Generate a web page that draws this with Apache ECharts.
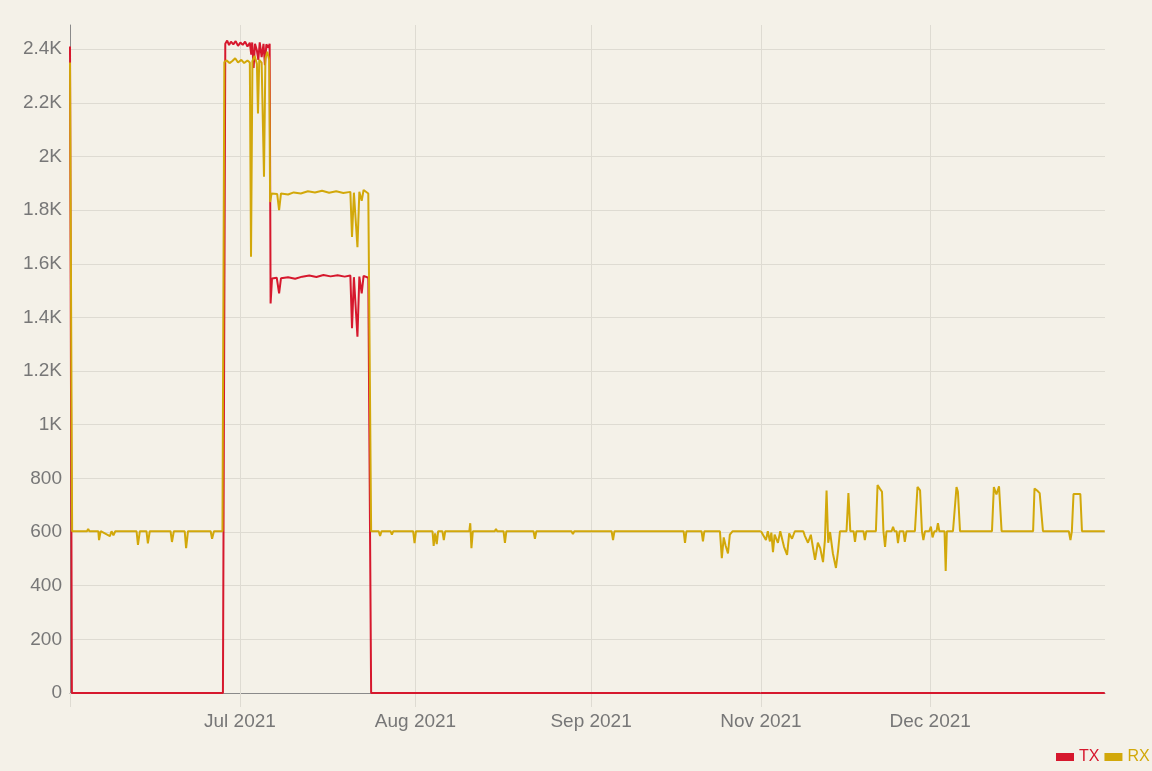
<!DOCTYPE html>
<html>
<head>
<meta charset="utf-8">
<script src="https://cdn.jsdelivr.net/npm/echarts@6/dist/echarts.min.js"></script>
<style>
html,body{margin:0;padding:0;background:#f4f1e8;}
#chart{width:1152px;height:771px;}
</style>
</head>
<body>
<div id="chart"></div>
<script>
// ---- data ----
const seriesNames = ['TX', 'RX'];
const monthTickLabels = ['Jul 2021', 'Aug 2021', 'Sep 2021', 'Nov 2021', 'Dec 2021'];
// Period 1: June - September 2021
const txJunSep = [
  ['2021-06-01 00:00', 2410], ['2021-06-01 08:00', 0], ['2021-06-28 00:00', 0],
  ['2021-06-28 10:00', 2420], ['2021-06-28 18:00', 2432], ['2021-06-29 02:00', 2415],
  ['2021-06-29 10:00', 2428], ['2021-06-29 20:00', 2418], ['2021-06-30 06:00', 2430],
  ['2021-06-30 16:00', 2412], ['2021-07-01 02:00', 2425], ['2021-07-01 12:00', 2416],
  ['2021-07-01 22:00', 2428], ['2021-07-02 08:00', 2410], ['2021-07-02 18:00', 2424],
  ['2021-07-03 00:00', 2380], ['2021-07-03 04:00', 2425], ['2021-07-03 10:00', 2330],
  ['2021-07-03 16:00', 2420], ['2021-07-04 00:00', 2395], ['2021-07-04 06:00', 2360],
  ['2021-07-04 12:00', 2425], ['2021-07-04 20:00', 2370], ['2021-07-05 04:00', 2420],
  ['2021-07-05 10:00', 2340], ['2021-07-05 16:00', 2418], ['2021-07-06 00:00', 2405],
  ['2021-07-06 06:00', 2420], ['2021-07-06 10:00', 1452], ['2021-07-06 16:00', 1545],
  ['2021-07-07 12:00', 1548], ['2021-07-07 22:00', 1490], ['2021-07-08 06:00', 1546],
  ['2021-07-09 12:00', 1550], ['2021-07-10 18:00', 1544], ['2021-07-12 00:00', 1552],
  ['2021-07-13 06:00', 1556], ['2021-07-14 12:00', 1551], ['2021-07-15 18:00', 1558],
  ['2021-07-17 00:00', 1553], ['2021-07-18 06:00', 1557], ['2021-07-19 12:00', 1552],
  ['2021-07-20 12:00', 1556], ['2021-07-20 19:00', 1360], ['2021-07-21 03:00', 1550],
  ['2021-07-21 18:00', 1328], ['2021-07-22 02:00', 1552], ['2021-07-22 12:00', 1490],
  ['2021-07-22 20:00', 1555], ['2021-07-23 16:00', 1548], ['2021-07-24 04:00', 0],
  ['2021-09-30 23:00', 0]
];
const rxJunSep = [
  ['2021-06-01 00:00', 2350], ['2021-06-01 09:00', 603], ['2021-06-04 00:00', 603],
  ['2021-06-04 05:00', 612], ['2021-06-04 10:00', 603], ['2021-06-06 00:00', 603],
  ['2021-06-06 03:00', 570], ['2021-06-06 10:00', 603], ['2021-06-08 01:00', 585],
  ['2021-06-08 08:00', 603], ['2021-06-08 16:00', 588], ['2021-06-09 00:00', 603],
  ['2021-06-12 18:00', 603], ['2021-06-13 00:00', 552], ['2021-06-13 08:00', 603],
  ['2021-06-14 12:00', 603], ['2021-06-14 18:00', 558], ['2021-06-15 02:00', 603],
  ['2021-06-18 18:00', 603], ['2021-06-19 00:00', 563], ['2021-06-19 08:00', 603],
  ['2021-06-21 06:00', 603], ['2021-06-21 12:00', 540], ['2021-06-21 20:00', 603],
  ['2021-06-25 20:00', 603], ['2021-06-26 02:00', 575], ['2021-06-26 10:00', 603],
  ['2021-06-27 22:00', 603], ['2021-06-28 06:00', 2352], ['2021-06-28 16:00', 2358],
  ['2021-06-29 04:00', 2348], ['2021-06-29 16:00', 2356], ['2021-06-30 04:00', 2366],
  ['2021-06-30 16:00', 2350], ['2021-07-01 06:00', 2360], ['2021-07-01 18:00', 2348],
  ['2021-07-02 08:00', 2358], ['2021-07-02 18:00', 2350], ['2021-07-02 23:00', 1626],
  ['2021-07-03 05:00', 2355], ['2021-07-03 14:00', 2375], ['2021-07-04 00:00', 2345],
  ['2021-07-04 04:30', 2160], ['2021-07-04 10:00', 2360], ['2021-07-04 20:00', 2350],
  ['2021-07-05 06:00', 1924], ['2021-07-05 12:00', 2365], ['2021-07-05 20:00', 2390],
  ['2021-07-06 04:00', 2360], ['2021-07-06 08:00', 1830], ['2021-07-06 14:00', 1862],
  ['2021-07-07 14:00', 1860], ['2021-07-07 22:00', 1800], ['2021-07-08 06:00', 1862],
  ['2021-07-09 12:00', 1858], ['2021-07-10 12:00', 1866], ['2021-07-11 18:00', 1862],
  ['2021-07-13 00:00', 1870], ['2021-07-14 06:00', 1866], ['2021-07-15 12:00', 1872],
  ['2021-07-16 18:00', 1865], ['2021-07-18 00:00', 1870], ['2021-07-19 06:00', 1864],
  ['2021-07-20 12:00', 1868], ['2021-07-20 19:00', 1700], ['2021-07-21 03:00', 1865],
  ['2021-07-21 18:00', 1662], ['2021-07-22 02:00', 1868], ['2021-07-22 12:00', 1835],
  ['2021-07-22 20:00', 1875], ['2021-07-23 16:00', 1862], ['2021-07-24 04:00', 603],
  ['2021-07-25 12:00', 603], ['2021-07-25 18:00', 585], ['2021-07-26 00:00', 603],
  ['2021-07-27 14:00', 603], ['2021-07-27 20:00', 590], ['2021-07-28 02:00', 603],
  ['2021-07-31 14:00', 603], ['2021-07-31 20:00', 559], ['2021-08-01 02:00', 603],
  ['2021-08-04 00:00', 603], ['2021-08-04 05:00', 548], ['2021-08-04 11:00', 595],
  ['2021-08-04 18:00', 555], ['2021-08-05 00:00', 603], ['2021-08-05 18:00', 603],
  ['2021-08-06 00:00', 570], ['2021-08-06 06:00', 603], ['2021-08-10 12:00', 603],
  ['2021-08-10 16:00', 633], ['2021-08-10 21:00', 540], ['2021-08-11 03:00', 603],
  ['2021-08-15 00:00', 603], ['2021-08-15 05:00', 612], ['2021-08-15 10:00', 603],
  ['2021-08-16 13:00', 603], ['2021-08-16 19:00', 560], ['2021-08-17 01:00', 603],
  ['2021-08-21 20:00', 603], ['2021-08-22 02:00', 575], ['2021-08-22 08:00', 603],
  ['2021-08-28 13:00', 603], ['2021-08-28 19:00', 592], ['2021-08-29 01:00', 603],
  ['2021-09-04 15:00', 603], ['2021-09-04 21:00', 570], ['2021-09-05 03:00', 603],
  ['2021-09-17 08:00', 603], ['2021-09-17 14:00', 560], ['2021-09-17 20:00', 603],
  ['2021-09-20 12:00', 603], ['2021-09-20 18:00', 565], ['2021-09-21 00:00', 603],
  ['2021-09-23 18:00', 603], ['2021-09-24 02:00', 503], ['2021-09-24 10:00', 580],
  ['2021-09-24 18:00', 550], ['2021-09-25 04:00', 520], ['2021-09-25 12:00', 590],
  ['2021-09-26 00:00', 603], ['2021-09-30 23:00', 603]
];
// Period 2: November - December 2021
const txNovDec = [['2021-11-01 00:00', 0], ['2021-12-31 23:00', 0]];
const rxNovDec = [
  ['2021-11-01 00:00', 603], ['2021-11-01 08:00', 600], ['2021-11-01 21:00', 570],
  ['2021-11-02 05:00', 603], ['2021-11-02 14:00', 565], ['2021-11-02 20:00', 598],
  ['2021-11-03 03:00', 525], ['2021-11-03 10:00', 590], ['2021-11-04 00:00', 560],
  ['2021-11-04 10:00', 603], ['2021-11-05 02:00', 545], ['2021-11-05 15:00', 515],
  ['2021-11-06 00:00', 595], ['2021-11-06 12:00', 575], ['2021-11-07 00:00', 603],
  ['2021-11-08 12:00', 603], ['2021-11-08 19:00', 585], ['2021-11-09 08:00', 560],
  ['2021-11-09 20:00', 590], ['2021-11-10 14:00', 496], ['2021-11-11 02:00', 560],
  ['2021-11-11 12:00', 540], ['2021-11-12 00:00', 488], ['2021-11-12 08:00', 570],
  ['2021-11-12 15:00', 755], ['2021-11-12 22:00', 560], ['2021-11-13 06:00', 600],
  ['2021-11-13 18:00', 520], ['2021-11-14 07:00', 466], ['2021-11-14 16:00', 530],
  ['2021-11-15 00:00', 603], ['2021-11-16 04:00', 603], ['2021-11-16 12:00', 745],
  ['2021-11-16 20:00', 603], ['2021-11-17 10:00', 603], ['2021-11-17 16:00', 563],
  ['2021-11-17 22:00', 603], ['2021-11-19 04:00', 603], ['2021-11-19 10:00', 570],
  ['2021-11-19 16:00', 603], ['2021-11-21 09:00', 603], ['2021-11-21 16:00', 775],
  ['2021-11-22 03:00', 760], ['2021-11-22 11:00', 750], ['2021-11-22 17:00', 603],
  ['2021-11-23 00:00', 545], ['2021-11-23 06:00', 603], ['2021-11-24 04:00', 603],
  ['2021-11-24 10:00', 620], ['2021-11-24 16:00', 603], ['2021-11-25 01:00', 603],
  ['2021-11-25 07:00', 559], ['2021-11-25 14:00', 603], ['2021-11-26 06:00', 603],
  ['2021-11-26 12:00', 563], ['2021-11-26 19:00', 603], ['2021-11-28 07:00', 603],
  ['2021-11-28 18:00', 768], ['2021-11-29 05:00', 755], ['2021-11-29 13:00', 603],
  ['2021-11-29 19:00', 570], ['2021-11-30 02:00', 603], ['2021-11-30 20:00', 603],
  ['2021-12-01 03:00', 620], ['2021-12-01 10:00', 580], ['2021-12-01 18:00', 603],
  ['2021-12-02 03:00', 603], ['2021-12-02 09:00', 633], ['2021-12-02 15:00', 603],
  ['2021-12-03 13:00', 603], ['2021-12-03 18:00', 455], ['2021-12-03 23:00', 603],
  ['2021-12-05 01:00', 603], ['2021-12-05 16:00', 768], ['2021-12-05 22:00', 750],
  ['2021-12-06 07:00', 603], ['2021-12-11 23:00', 603], ['2021-12-12 07:00', 768],
  ['2021-12-12 18:00', 740], ['2021-12-13 05:00', 770], ['2021-12-13 16:00', 603],
  ['2021-12-19 06:00', 603], ['2021-12-19 12:00', 762], ['2021-12-19 23:00', 755],
  ['2021-12-20 10:00', 745], ['2021-12-20 18:00', 745], ['2021-12-21 00:00', 603],
  ['2021-12-25 14:00', 603], ['2021-12-25 21:00', 570], ['2021-12-26 03:00', 603],
  ['2021-12-26 10:00', 742], ['2021-12-27 15:00', 742], ['2021-12-27 22:00', 603],
  ['2021-12-31 23:00', 603]
];

// ---- style ----
const RED = '#d6182d';
const GOLD = '#d2a80a';
const GRID_C = '#dedbd2';
const AXIS_C = '#8a8a8a';
const LABEL_C = '#777777';
const FONT = '"Liberation Sans", Arial, Helvetica, sans-serif';
const DAY = 86400000;
const MONTHS = ['Jan','Feb','Mar','Apr','May','Jun','Jul','Aug','Sep','Oct','Nov','Dec'];

function monthLabel(value) {
  const d = new Date(value);
  const s = MONTHS[d.getMonth()] + ' ' + d.getFullYear();
  return monthTickLabels.indexOf(s) >= 0 ? s : '';
}

function yAxis(idx, showLabels) {
  return {
    type: 'value', gridIndex: idx, min: 0, max: 2490, interval: 200,
    axisLine: { show: showLabels, lineStyle: { color: AXIS_C, width: 1 } },
    axisTick: { show: false },
    axisLabel: {
      show: showLabels, color: LABEL_C, fontSize: 19, fontFamily: FONT, margin: 8,
      showMaxLabel: false,
      formatter: v => v >= 1000 ? (v / 1000) + 'K' : String(v)
    },
    splitLine: { show: true, showMaxLine: false, lineStyle: { color: GRID_C, width: 1 } }
  };
}
function xAxis(idx, min, max, showMin) {
  return {
    type: 'time', gridIndex: idx, min: min, max: max,
    minInterval: 28 * DAY, maxInterval: 31 * DAY,
    axisLine: { show: true, onZero: true, lineStyle: { color: AXIS_C, width: 1 } },
    axisTick: { show: true, length: 14, lineStyle: { color: GRID_C } },
    axisLabel: {
      formatter: monthLabel, color: LABEL_C, fontSize: 19, fontFamily: FONT,
      margin: 19, hideOverlap: false
    },
    splitLine: { show: true, showMinLine: showMin, showMaxLine: false, lineStyle: { color: GRID_C, width: 1 } }
  };
}
function line(name, data, idx, color) {
  return {
    name: name, type: 'line', xAxisIndex: idx, yAxisIndex: idx, data: data,
    showSymbol: false, symbol: 'none', lineStyle: { color: color, width: 2 },
    itemStyle: { color: color }, animation: false
  };
}

const chart = echarts.init(document.getElementById('chart'), null, { renderer: 'canvas' });
chart.setOption({
  backgroundColor: '#f4f1e8',
  animation: false,
  textStyle: { fontFamily: FONT },
  grid: [
    { left: 70, right: 391, top: 25, bottom: 78, containLabel: false },
    { left: 761, right: 47, top: 25, bottom: 78, containLabel: false }
  ],
  legend: {
    left: 1056, top: 749, width: 300, padding: 0, itemWidth: 18, itemHeight: 8, itemGap: 5, icon: 'rect',
    textStyle: { fontSize: 16, fontFamily: FONT },
    data: [
      { name: seriesNames[0], textStyle: { color: RED } },
      { name: seriesNames[1], textStyle: { color: GOLD } }
    ]
  },
  xAxis: [
    xAxis(0, '2021-06-01 00:00', '2021-10-01 00:00', false),
    xAxis(1, '2021-11-01 00:00', '2022-01-01 00:00', true)
  ],
  yAxis: [yAxis(0, true), yAxis(1, false)],
  series: [
    line(seriesNames[0], txJunSep, 0, RED),
    line(seriesNames[1], rxJunSep, 0, GOLD),
    line(seriesNames[0], txNovDec, 1, RED),
    line(seriesNames[1], rxNovDec, 1, GOLD)
  ]
});
</script>
</body>
</html>
